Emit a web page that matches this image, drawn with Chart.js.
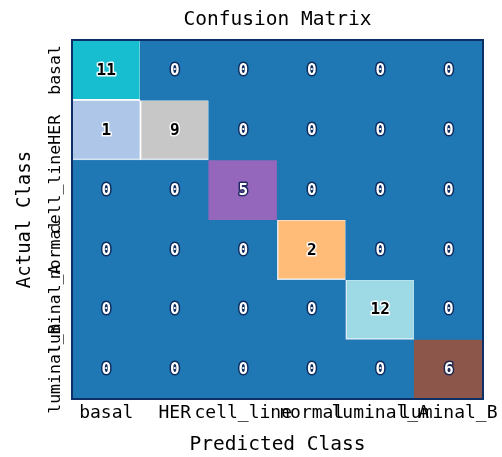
<!DOCTYPE html>
<html>
  <head>
    <title>Confusion Matrix</title>
    <style>
      body {
        margin: 0;
        background: white;
      }
      canvas {
        display: block;
      }
    </style>
  </head>
  <body>
    <canvas id="matrix" width="502" height="457"></canvas>

    <script src="https://cdn.jsdelivr.net/npm/chart.js"></script>
    <script>
      // class names (predicted on x, actual on y)
      const classes = ['basal', 'HER', 'cell_line', 'normal', 'luminal_A', 'luminal_B'];

      // one row of counts per actual class
      const basalRow = [11, 0, 0, 0, 0, 0];
      const herRow = [1, 9, 0, 0, 0, 0];
      const cellLineRow = [0, 0, 5, 0, 0, 0];
      const normalRow = [0, 0, 0, 2, 0, 0];
      const luminalARow = [0, 0, 0, 0, 12, 0];
      const luminalBRow = [0, 0, 0, 0, 0, 6];

      const rows = [basalRow, herRow, cellLineRow, normalRow, luminalARow, luminalBRow];

      // tab20 colormap
      const tab20 = ['#1f77b4', '#aec7e8', '#ff7f0e', '#ffbb78', '#2ca02c', '#98df8a',
        '#d62728', '#ff9896', '#9467bd', '#c5b0d5', '#8c564b', '#c49c94',
        '#e377c2', '#f7b6d2', '#7f7f7f', '#c7c7c7', '#bcbd22', '#dbdb8d',
        '#17becf', '#9edae5'];

      const maxCount = Math.max(...rows.flat());
      const mono = 'DejaVu Sans Mono';

      function cellColor(v) {
        const idx = Math.min(tab20.length - 1, Math.floor(v / maxCount * tab20.length));
        return tab20[idx];
      }

      function isDark(hex) {
        const r = parseInt(hex.substr(1, 2), 16);
        const g = parseInt(hex.substr(3, 2), 16);
        const b = parseInt(hex.substr(5, 2), 16);
        return (0.299 * r + 0.587 * g + 0.114 * b) / 255 < 0.53;
      }

      const datasets = rows.map((row, r) => ({
        label: classes[r],
        data: row.map(() => [r - 0.5, r + 0.5]),
        counts: row,
        backgroundColor: row.map(cellColor),
        borderColor: row.map(v => (v > 0 && !isDark(cellColor(v))) ? 'rgba(255,255,255,0.8)' : 'rgba(0,0,0,0)'),
        borderWidth: row.map(v => (v > 0 && !isDark(cellColor(v))) ? 1.5 : 0),
        borderSkipped: false,
        inflateAmount: 0.6,
        barPercentage: 1,
        categoryPercentage: 1,
        grouped: false
      }));

      // numbers in the cells, with an outline like matplotlib path effects
      const cellText = {
        id: 'cellText',
        afterDatasetsDraw(chart) {
          const ctx = chart.ctx;
          ctx.save();
          ctx.font = 'bold 16px "' + mono + '"';
          ctx.textAlign = 'center';
          ctx.textBaseline = 'middle';
          ctx.lineJoin = 'round';
          ctx.lineWidth = 3;
          chart.data.datasets.forEach((ds, r) => {
            const meta = chart.getDatasetMeta(r);
            meta.data.forEach((bar, c) => {
              const v = ds.counts[c];
              const dark = isDark(cellColor(v));
              const cy = (bar.y + bar.base) / 2;
              ctx.strokeStyle = dark ? 'rgba(10,30,80,0.85)' : 'rgba(255,255,255,0.9)';
              ctx.fillStyle = dark ? '#ffffff' : '#000000';
              ctx.strokeText(String(v), bar.x, cy + 1);
              ctx.fillText(String(v), bar.x, cy + 1);
            });
          });
          ctx.restore();
        }
      };

      // rotated y tick labels, centred on each row
      const rowLabels = {
        id: 'rowLabels',
        afterDraw(chart) {
          const ctx = chart.ctx;
          const yScale = chart.scales.y;
          const area = chart.chartArea;
          ctx.save();
          ctx.strokeStyle = '#0c2f66';
          ctx.lineWidth = 2;
          ctx.strokeRect(area.left, area.top, area.right - area.left, area.bottom - area.top);
          ctx.font = '16.5px "' + mono + '"';
          ctx.fillStyle = '#000';
          ctx.textAlign = 'center';
          ctx.textBaseline = 'middle';
          classes.forEach((name, i) => {
            ctx.save();
            ctx.translate(area.left - 16, yScale.getPixelForValue(i));
            ctx.rotate(-Math.PI / 2);
            ctx.fillText(name, 0, 0);
            ctx.restore();
          });
          ctx.restore();
        }
      };

      new Chart(document.getElementById('matrix'), {
        type: 'bar',
        data: {
          labels: classes,
          datasets: datasets
        },
        options: {
          responsive: false,
          animation: false,
          layout: {
            padding: { right: 19 }
          },
          plugins: {
            legend: { display: false },
            tooltip: { enabled: false }
          },
          scales: {
            x: {
              type: 'category',
              position: 'bottom',
              offset: true,
              grid: { display: false, drawTicks: false },
              border: { display: false },
              ticks: {
                autoSkip: false,
                minRotation: 0,
                maxRotation: 0,
                padding: 3.7,
                color: '#000',
                font: { family: mono, size: 18 }
              },
              title: {
                display: true,
                text: 'Predicted Class',
                color: '#000',
                font: { family: mono, size: 19.5 },
                padding: { top: 9, bottom: 0.3 }
              },
              afterFit(scale) {
                // labels may spill past the plot, like matplotlib; keep the plot box fixed
                scale.height = 58;
                scale.paddingLeft = 0;
                scale.paddingRight = 0;
              }
            },
            top: {
              type: 'category',
              position: 'top',
              grid: { display: false, drawTicks: false },
              border: { display: false },
              ticks: { display: false },
              title: {
                display: true,
                text: 'Confusion Matrix',
                color: '#000',
                font: { family: mono, size: 19.5 },
                padding: { top: 8.6, bottom: 8 }
              },
              afterFit(scale) {
                scale.height = 40;
                scale.paddingLeft = 0;
                scale.paddingRight = 0;
              }
            },
            y: {
              type: 'linear',
              min: -0.5,
              max: 5.5,
              reverse: true,
              grid: { display: false, drawTicks: false },
              border: { display: false },
              ticks: { display: false },
              title: {
                display: true,
                text: 'Actual Class',
                color: '#000',
                font: { family: mono, size: 19 },
                padding: { top: 13.6, bottom: 35.6 }
              },
              afterFit(scale) {
                scale.width = 72;
              }
            }
          }
        },
        plugins: [cellText, rowLabels]
      });
    </script>
  </body>
</html>
